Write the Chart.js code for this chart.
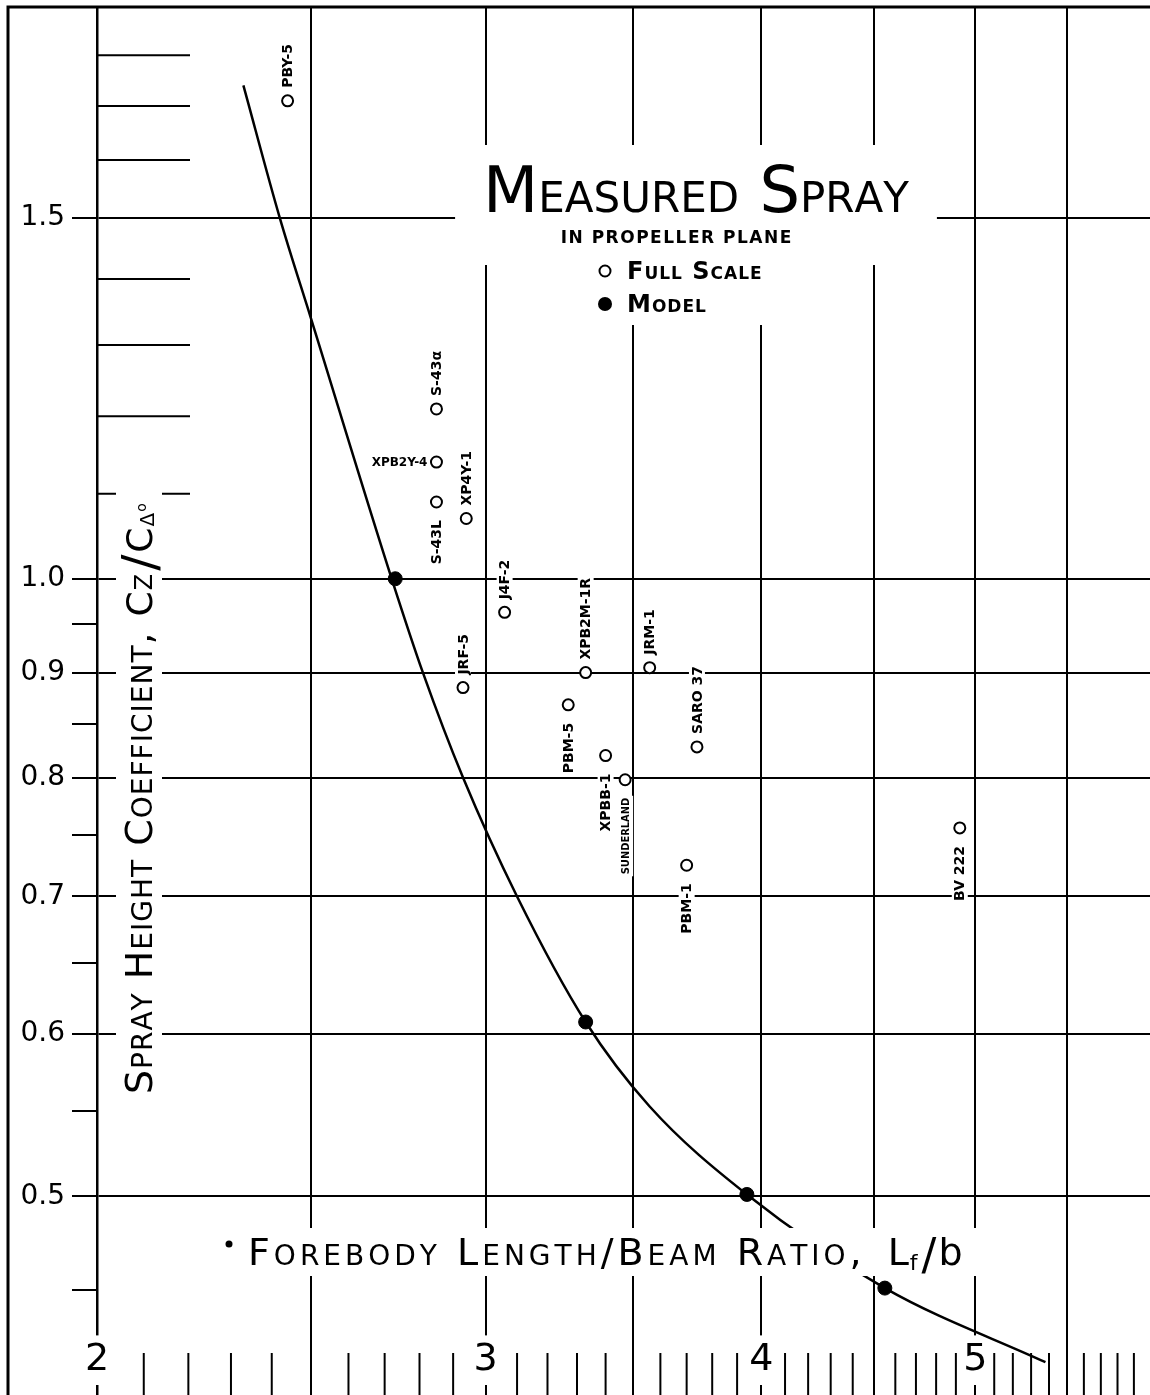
<!DOCTYPE html>
<html>
<head>
<meta charset="utf-8">
<script src="https://cdn.jsdelivr.net/npm/chart.js@4.4.1/dist/chart.umd.min.js"></script>
<style>
  html, body { margin: 0; padding: 0; background: #fff; }
  #wrap { width: 1150px; height: 1395px; }
</style>
</head>
<body>
<div id="wrap"><canvas id="sprayChart" width="1150" height="1395"></canvas></div>
<script>
// full scale boats (open circles)
const fullScaleNames = ['PBY-5', 'S-43α', 'XPB2Y-4', 'S-43L', 'XP4Y-1', 'J4F-2', 'JRF-5', 'XPB2M-1R',
  'JRM-1', 'PBM-5', 'SARO 37', 'XPBB-1', 'SUNDERLAND', 'PBM-1', 'BV 222'];
const fullScaleLf = [2.44, 2.85, 2.85, 2.85, 2.94, 3.06, 2.93, 3.33, 3.56, 3.27, 3.74, 3.40, 3.47, 3.70, 4.92];
const fullScaleCz = [1.71, 1.21, 1.14, 1.09, 1.07, 0.963, 0.885, 0.90, 0.905, 0.868, 0.828, 0.820, 0.798, 0.725, 0.756];
const labelSide = ['above', 'above', 'left', 'below', 'above', 'above', 'above', 'above',
  'above', 'below', 'above', 'below', 'below', 'below', 'below'];

// model tests (filled)
const modelLf = [2.73, 3.33, 3.94, 4.55];
const modelCz = [1.00, 0.608, 0.501, 0.451];

// faired curve
const curveLf = [2.33, 2.42, 2.50, 2.72, 2.81, 2.93, 3.10, 3.33, 3.56, 3.94, 4.55, 5.38];
const curveCz = [1.74, 1.50, 1.34, 1.00, 0.90, 0.80, 0.70, 0.608, 0.553, 0.501, 0.451, 0.415];

// axes
const xGridValues = [2, 2.5, 3, 3.5, 4, 4.5, 5, 5.5];
const xLabelValues = [2, 3, 4, 5];
const xMinorTicks = [2.1, 2.2, 2.3, 2.4, 2.6, 2.7, 2.8, 2.9, 3.1, 3.2, 3.3, 3.4, 3.6, 3.7, 3.8, 3.9,
  4.1, 4.2, 4.3, 4.4, 4.6, 4.7, 4.8, 4.9, 5.1, 5.2, 5.3, 5.4, 5.6, 5.7, 5.8, 5.9];
const yGridValues = [0.5, 0.6, 0.7, 0.8, 0.9, 1.0, 1.5];
const yLabelValues = [0.5, 0.6, 0.7, 0.8, 0.9, 1.0, 1.5];
const yMinorLow = [0.45, 0.55, 0.65, 0.75, 0.85, 0.95];
const yMinorHigh = [1.1, 1.2, 1.3, 1.4, 1.6, 1.7, 1.8];

const FONT = "'DejaVu Sans', sans-serif";

// lettering: capitals full size, lower case drawn as small capitals
function scParts(ctx, str, big, small, weight) {
  return Array.from(str).map(ch => {
    const low = /[a-z]/.test(ch);
    const size = low ? small : big;
    const c = low ? ch.toUpperCase() : ch;
    ctx.font = weight + ' ' + size + 'px ' + FONT;
    return { c, size, w: ctx.measureText(c).width };
  });
}
function scWidth(ctx, str, o) {
  const parts = scParts(ctx, str, o.big, o.small, o.weight || 'normal');
  return parts.reduce((s, p) => s + p.w, 0) + (o.sp || 0) * (parts.length - 1);
}
function drawSC(ctx, str, x, y, o) {
  const weight = o.weight || 'normal';
  const sp = o.sp || 0;
  const parts = scParts(ctx, str, o.big, o.small, weight);
  const w = parts.reduce((s, p) => s + p.w, 0) + sp * (parts.length - 1);
  let cx = o.align === 'center' ? x - w / 2 : (o.align === 'right' ? x - w : x);
  ctx.textAlign = 'left';
  ctx.textBaseline = 'alphabetic';
  ctx.fillStyle = '#000';
  parts.forEach(p => {
    ctx.font = weight + ' ' + p.size + 'px ' + FONT;
    ctx.fillText(p.c, cx, y);
    cx += p.w + sp;
  });
  return w;
}

const decor = {
  id: 'decor',
  beforeDatasetsDraw(chart) {
    const { ctx, chartArea, scales: { x, y } } = chart;
    ctx.save();
    ctx.strokeStyle = '#000';
    // outer frame
    ctx.lineWidth = 3;
    ctx.beginPath();
    ctx.moveTo(8, chart.height);
    ctx.lineTo(8, chartArea.top);
    ctx.lineTo(chart.width, chartArea.top);
    ctx.stroke();
    // short ticks above 1.0 pointing into the plot
    ctx.lineWidth = 2;
    yMinorHigh.forEach(v => {
      const py = y.getPixelForValue(v);
      ctx.beginPath();
      ctx.moveTo(chartArea.left, py);
      ctx.lineTo(chartArea.left + 93, py);
      ctx.stroke();
    });
    // minor ticks along the bottom
    xMinorTicks.forEach(v => {
      const px = x.getPixelForValue(v);
      ctx.beginPath();
      ctx.moveTo(px, chartArea.bottom - 42);
      ctx.lineTo(px, chartArea.bottom);
      ctx.stroke();
    });
    ctx.restore();
  },
  afterDatasetsDraw(chart) {
    const { ctx, scales: { x, y } } = chart;
    ctx.save();

    // title block
    const titleOpt = { big: 64, small: 42, align: 'center' };
    const tw = scWidth(ctx, 'Measured Spray', titleOpt);
    ctx.fillStyle = '#fff';
    ctx.fillRect(696 - tw / 2 - 28, 145, tw + 56, 120);
    ctx.fillRect(592, 255, 200, 70);
    drawSC(ctx, 'Measured Spray', 696, 212, titleOpt);
    drawSC(ctx, 'IN PROPELLER PLANE', 676, 243, { big: 17, small: 17, weight: 'bold', sp: 1.5, align: 'center' });

    // legend
    ctx.lineWidth = 2;
    ctx.strokeStyle = '#000';
    ctx.beginPath();
    ctx.arc(605, 271, 5.5, 0, Math.PI * 2);
    ctx.stroke();
    ctx.fillStyle = '#000';
    ctx.beginPath();
    ctx.arc(605, 304, 7, 0, Math.PI * 2);
    ctx.fill();
    drawSC(ctx, 'Full Scale', 627, 279, { big: 24, small: 17, weight: 'bold', sp: 1 });
    drawSC(ctx, 'Model', 627, 312, { big: 24, small: 17, weight: 'bold', sp: 1 });

    // x axis title
    const xtOpt = { big: 38, small: 28, sp: 4 };
    const xw = scWidth(ctx, 'Forebody Length/Beam Ratio,', xtOpt);
    ctx.fillStyle = '#fff';
    ctx.fillRect(218, 1228, 248 + xw + 115 - 218, 48);
    ctx.fillStyle = '#000';
    ctx.beginPath();
    ctx.arc(229, 1244, 3.5, 0, Math.PI * 2);
    ctx.fill();
    drawSC(ctx, 'Forebody Length/Beam Ratio,', 248, 1265, xtOpt);
    let lx = 248 + xw + 26;
    ctx.textAlign = 'left';
    ctx.textBaseline = 'alphabetic';
    ctx.font = '38px ' + FONT;
    ctx.fillText('L', lx, 1265);
    lx += ctx.measureText('L').width + 1;
    ctx.font = '22px ' + FONT;
    ctx.fillText('f', lx, 1270);
    lx += ctx.measureText('f').width + 4;
    ctx.font = '44px ' + FONT;
    ctx.fillText('/', lx, 1270);
    lx += ctx.measureText('/').width + 2;
    ctx.font = '38px ' + FONT;
    ctx.fillText('b', lx, 1265);

    // y axis title, rotated
    ctx.save();
    ctx.translate(152, 1094);
    ctx.rotate(-Math.PI / 2);
    const ytOpt = { big: 38, small: 28, sp: 1 };
    const yw = scWidth(ctx, 'Spray Height Coefficient,', ytOpt);
    ctx.fillStyle = '#fff';
    ctx.fillRect(-6, -36, yw + 200, 46);
    drawSC(ctx, 'Spray Height Coefficient,', 0, 0, ytOpt);
    let cx = yw + 16;
    ctx.fillStyle = '#000';
    ctx.font = '36px ' + FONT;
    ctx.fillText('C', cx, 0);
    cx += ctx.measureText('C').width + 1;
    ctx.font = '24px ' + FONT;
    ctx.fillText('Z', cx, 0);
    cx += ctx.measureText('Z').width + 3;
    ctx.font = '48px ' + FONT;
    ctx.fillText('/', cx, 4);
    cx += ctx.measureText('/').width + 2;
    ctx.font = '36px ' + FONT;
    ctx.fillText('C', cx, 0);
    cx += ctx.measureText('C').width + 1;
    ctx.font = '20px ' + FONT;
    ctx.fillText('Δ', cx, 2);
    cx += ctx.measureText('Δ').width + 1;
    ctx.font = '14px ' + FONT;
    ctx.fillText('o', cx, -6);
    ctx.restore();

    // point labels for full scale boats
    ctx.textBaseline = 'middle';
    fullScaleNames.forEach((name, i) => {
      const px = x.getPixelForValue(fullScaleLf[i]);
      const py = y.getPixelForValue(fullScaleCz[i]);
      ctx.font = name.length > 8 ? "bold 11px 'DejaVu Sans Condensed', " + FONT : 'bold 14px ' + FONT;
      const w = ctx.measureText(name).width;
      const side = labelSide[i];
      ctx.save();
      if (side === 'left') {
        ctx.font = 'bold 12px ' + FONT;
        const wl = ctx.measureText(name).width;
        ctx.translate(px - 9, py);
        ctx.fillStyle = '#fff';
        ctx.fillRect(-wl - 2, -7, wl + 4, 14);
        ctx.fillStyle = '#000';
        ctx.textAlign = 'right';
        ctx.fillText(name, 0, 1);
      } else {
        const gap = side === 'above' ? 13 : 18;
        ctx.translate(px, side === 'above' ? py - gap : py + gap);
        ctx.rotate(-Math.PI / 2);
        ctx.fillStyle = '#fff';
        if (side === 'above') ctx.fillRect(-2, -8, w + 4, 16);
        else ctx.fillRect(-w - 2, -8, w + 4, 16);
        ctx.fillStyle = '#000';
        ctx.textAlign = side === 'above' ? 'left' : 'right';
        ctx.fillText(name, 0, 1);
      }
      ctx.restore();
    });

    ctx.restore();
  }
};

new Chart(document.getElementById('sprayChart').getContext('2d'), {
  type: 'scatter',
  data: {
    datasets: [
      {
        type: 'line',
        label: 'Faired curve',
        data: curveLf.map((v, i) => ({ x: v, y: curveCz[i] })),
        borderColor: '#000',
        borderWidth: 2.5,
        pointRadius: 0,
        fill: false,
        cubicInterpolationMode: 'monotone'
      },
      {
        label: 'Model',
        data: modelLf.map((v, i) => ({ x: v, y: modelCz[i] })),
        backgroundColor: '#000',
        borderColor: '#000',
        pointRadius: 7
      },
      {
        label: 'Full Scale',
        data: fullScaleLf.map((v, i) => ({ x: v, y: fullScaleCz[i] })),
        backgroundColor: '#fff',
        borderColor: '#000',
        borderWidth: 2,
        pointRadius: 5.5
      }
    ]
  },
  options: {
    responsive: false,
    devicePixelRatio: 1,
    animation: false,
    layout: { autoPadding: false, padding: { top: 7, left: 0, right: 0, bottom: 0 } },
    plugins: {
      legend: { display: false },
      tooltip: { enabled: false }
    },
    scales: {
      x: {
        type: 'logarithmic',
        min: 2,
        max: 6,
        position: 'bottom',
        afterBuildTicks: s => { s.ticks = xGridValues.map(v => ({ value: v })); },
        afterFit: s => { s.height = 0; s.paddingLeft = 0; s.paddingRight = 0; },
        grid: { color: '#000', lineWidth: 2, drawTicks: false },
        border: { display: false },
        ticks: {
          autoSkip: false,
          maxRotation: 0,
          mirror: true,
          padding: 12,
          color: '#000',
          font: { family: FONT, size: 38 },
          callback: v => xLabelValues.includes(v) ? String(v) : '',
          showLabelBackdrop: true,
          backdropColor: c => (c.tick && xLabelValues.includes(c.tick.value)) ? '#fff' : 'rgba(0,0,0,0)',
          backdropPadding: { left: 4, right: 4, top: 2, bottom: 2 }
        }
      },
      y: {
        type: 'logarithmic',
        min: 0.4,
        max: 1.9,
        afterBuildTicks: s => {
          s.ticks = [...yMinorLow, ...yGridValues, ...yMinorHigh].sort((a, b) => a - b).map(v => ({ value: v }));
        },
        afterFit: s => { s.width = 97; s.paddingTop = 0; s.paddingBottom = 0; },
        grid: {
          lineWidth: 2,
          tickLength: 25,
          color: c => (c.tick && yGridValues.includes(c.tick.value)) ? '#000' : 'rgba(0,0,0,0)',
          tickColor: c => (c.tick && yMinorHigh.includes(c.tick.value)) ? 'rgba(0,0,0,0)' : '#000'
        },
        border: { display: true, color: '#000', width: 2.5, z: -1 },
        ticks: {
          autoSkip: false,
          padding: 7,
          color: '#000',
          font: { family: FONT, size: 28 },
          callback: v => yLabelValues.includes(v) ? v.toFixed(1) : ''
        }
      }
    }
  },
  plugins: [decor]
});
</script>
</body>
</html>
